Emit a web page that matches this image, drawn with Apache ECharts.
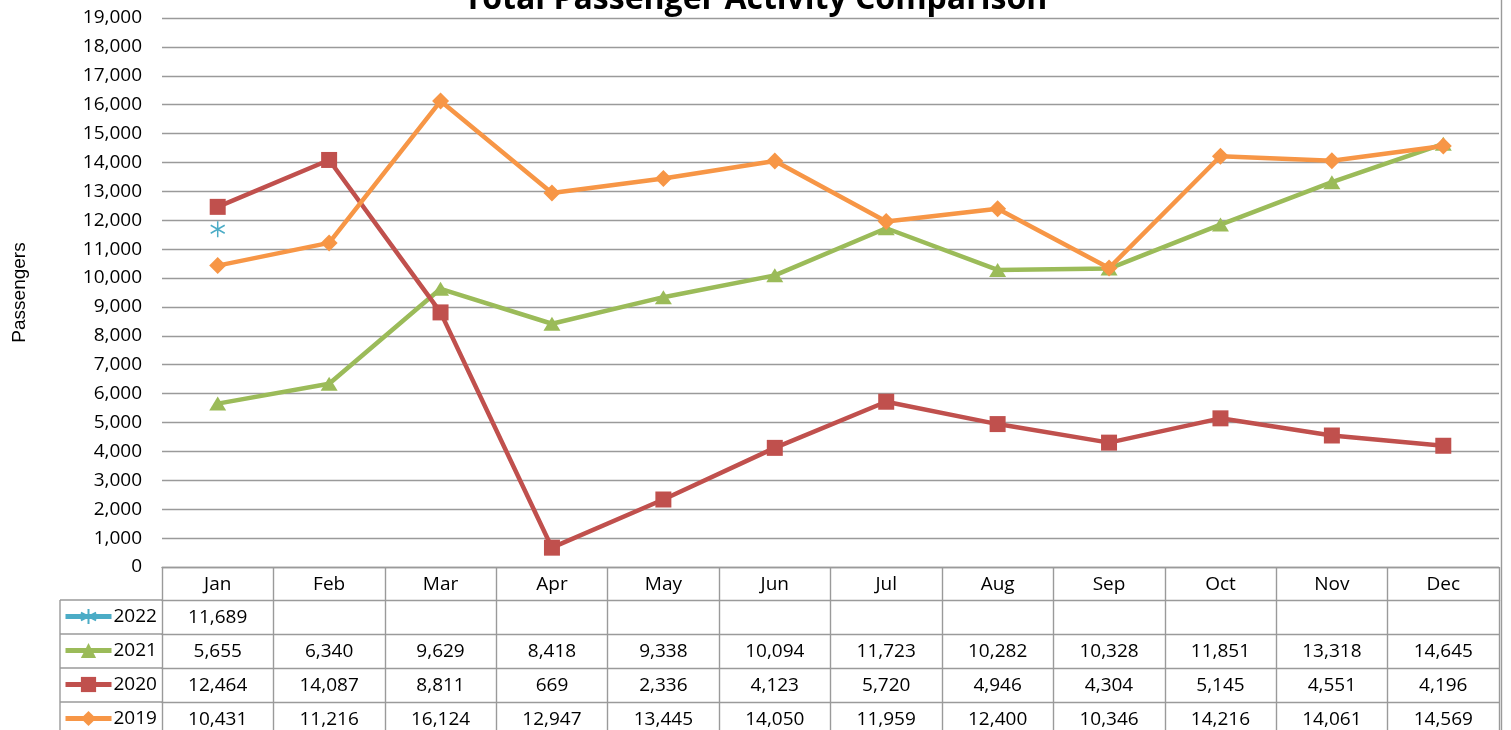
<!DOCTYPE html>
<html>
<head>
<meta charset="utf-8">
<script src="https://cdn.jsdelivr.net/npm/echarts@6/dist/echarts.min.js"></script>
<style>
  html, body { margin: 0; padding: 0; background: #fff; }
  #main { width: 1511px; height: 730px; }
</style>
</head>
<body>
<div id="main"></div>
<script>
// 数据
var months = ['Jan', 'Feb', 'Mar', 'Apr', 'May', 'Jun', 'Jul', 'Aug', 'Sep', 'Oct', 'Nov', 'Dec'];
var years = ['2022', '2021', '2020', '2019'];
var data2022 = [11689, null, null, null, null, null, null, null, null, null, null, null];
var data2021 = [5655, 6340, 9629, 8418, 9338, 10094, 11723, 10282, 10328, 11851, 13318, 14645];
var data2020 = [12464, 14087, 8811, 669, 2336, 4123, 5720, 4946, 4304, 5145, 4551, 4196];
var data2019 = [10431, 11216, 16124, 12947, 13445, 14050, 11959, 12400, 10346, 14216, 14061, 14569];

var rows = [data2022, data2021, data2020, data2019];
var colors = ['#4BACC6', '#9BBB59', '#C0504D', '#F79646'];
var symbols = [
    'path://M0,-8L0,8M-7,-4L7,4M-7,4L7,-4',
    'triangle',
    'rect',
    'diamond'
];
var symbolSizes = [[14, 16], [17, 14], 16, 17];

var gridColor = '#9a9a9a';
var labelFont = 'Open Sans';
var rowH = 34;

function fmt(v) {
    if (v === null || v === undefined) return '';
    return v.toLocaleString('en-US');
}

var myChart = echarts.init(document.getElementById('main'));

// x轴：第一条是月份表头，其余是数据表的各行
var xAxes = [{
    type: 'category',
    data: months,
    position: 'bottom',
    axisLine: { lineStyle: { color: gridColor, width: 1.4 } },
    axisTick: { show: true, length: rowH, interval: 0, lineStyle: { color: gridColor, width: 1.4 } },
    axisLabel: { interval: 0, margin: 8, color: '#000', fontSize: 19, fontFamily: labelFont }
}];
rows.forEach(function (row, k) {
    xAxes.push({
        type: 'category',
        data: months,
        position: 'bottom',
        offset: rowH * (k + 1) - 1,
        axisLine: { lineStyle: { color: gridColor, width: 1.4 } },
        axisTick: { show: true, length: rowH, interval: 0, lineStyle: { color: gridColor, width: 1.4 } },
        axisLabel: {
            interval: 0, margin: 8, color: '#000', fontSize: 19, fontFamily: labelFont,
            formatter: function (v, i) { return fmt(row[i]); }
        }
    });
});

var series = years.map(function (y, k) {
    return {
        name: y,
        type: 'line',
        xAxisIndex: 0,
        data: rows[k],
        symbol: symbols[k],
        symbolSize: symbolSizes[k],
        showAllSymbol: true,
        connectNulls: false,
        lineStyle: { color: colors[k], width: 4.5 },
        itemStyle: {
            color: colors[k],
            borderColor: colors[k],
            borderWidth: k === 0 ? 1.6 : 0
        },
        z: 2 + k
    };
});

// 每一行一个图例
var legends = years.map(function (y, k) {
    return {
        data: [y],
        left: 63,
        top: 600 + rowH * k + 7,
        padding: 0,
        itemWidth: 46,
        itemHeight: 19,
        itemGap: 2,
        selectedMode: false,
        lineStyle: { width: 5 },
        textStyle: { color: '#000', fontSize: 19, fontFamily: labelFont, padding: [0, 0, 0, -3] }
    };
});

// 图例列的边框
var borders = [];
for (var i = 0; i < 4; i++) {
    borders.push({
        type: 'line',
        shape: { x1: 60, y1: 600 + rowH * i, x2: 162, y2: 600 + rowH * i },
        style: { stroke: gridColor, lineWidth: 1.4 }
    });
}
borders.push({
    type: 'line',
    shape: { x1: 60, y1: 600, x2: 60, y2: 730 },
    style: { stroke: gridColor, lineWidth: 1.4 }
});
borders.push({
    type: 'line',
    shape: { x1: 1501.5, y1: 0, x2: 1501.5, y2: 730 },
    style: { stroke: gridColor, lineWidth: 1.4 }
});

var option = {
    backgroundColor: '#fff',
    animation: false,
    title: {
        text: 'Total Passenger Activity Comparison',
        left: 'center',
        top: -21,
        textStyle: { color: '#000', fontSize: 32, fontWeight: 'bold', fontFamily: labelFont }
    },
    legend: legends,
    grid: { left: 162, right: 12, top: 18, bottom: 163, containLabel: false },
    xAxis: xAxes,
    yAxis: {
        type: 'value',
        min: 0,
        max: 19000,
        interval: 1000,
        name: 'Passengers',
        nameLocation: 'middle',
        nameGap: 133,
        nameRotate: 90,
        nameTextStyle: { color: '#000', fontSize: 19, fontFamily: 'Liberation Sans' },
        axisLine: { show: false },
        axisTick: { show: false },
        axisLabel: {
            margin: 20, color: '#000', fontSize: 19, fontFamily: labelFont,
            formatter: function (v) { return fmt(v); }
        },
        splitLine: { lineStyle: { color: gridColor, width: 1.4 } }
    },
    graphic: borders,
    series: series
};

myChart.setOption(option);
</script>
</body>
</html>
